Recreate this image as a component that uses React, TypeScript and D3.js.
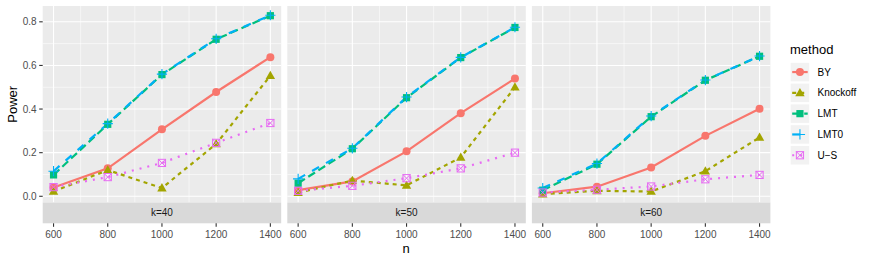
import * as d3 from "d3";

// n values on the x axis
const ns = [600, 800, 1000, 1200, 1400];
const facets = ["k=40", "k=50", "k=60"];
const methods = ["BY", "Knockoff", "LMT", "LMT0", "U\u2212S"];

// Power per facet (k=40, k=50, k=60)
const byPower = [
  [0.04, 0.128, 0.307, 0.478, 0.638],
  [0.028, 0.068, 0.206, 0.381, 0.54],
  [0.014, 0.044, 0.132, 0.277, 0.401],
];
const knockoffPower = [
  [0.022, 0.12, 0.038, 0.24, 0.553],
  [0.017, 0.072, 0.05, 0.178, 0.5],
  [0.01, 0.025, 0.022, 0.115, 0.27],
];
const lmtPower = [
  [0.098, 0.33, 0.558, 0.72, 0.828],
  [0.06, 0.218, 0.452, 0.636, 0.774],
  [0.028, 0.147, 0.365, 0.532, 0.642],
];
const lmt0Power = [
  [0.115, 0.333, 0.56, 0.722, 0.83],
  [0.08, 0.22, 0.455, 0.637, 0.775],
  [0.038, 0.15, 0.368, 0.533, 0.643],
];
const usPower = [
  [0.042, 0.088, 0.153, 0.245, 0.336],
  [0.025, 0.048, 0.083, 0.128, 0.2],
  [0.017, 0.03, 0.045, 0.078, 0.098],
];
const seriesPower = [byPower, knockoffPower, lmtPower, lmt0Power, usPower];

const yTicks = [0, 0.2, 0.4, 0.6, 0.8];
const yMinor = [0.1, 0.3, 0.5, 0.7];
const xMinor = [700, 900, 1100, 1300];

const colors = ["#F8766D", "#A3A500", "#00BF7D", "#00B0F6", "#E76BF3"];
const dashes = ["none", "4,4", "8,4", "8,8", "2,6"];

const FONT = "'Liberation Sans', Arial, Helvetica, sans-serif";

const panelLeft = 42.7;
const panelW = 238.5;
const panelGap = 6.1;
const panelTop = 6;
const panelBottom = 202.5;
const stripH = 20.8;

const y = d3.scaleLinear().domain([-0.0285, 0.8725]).range([panelBottom, panelTop]);

function Glyph({ m, cx, cy }: { m: number; cx: number; cy: number }) {
  const c = colors[m];
  if (m === 0) return <circle cx={cx} cy={cy} r={4} fill={c} />;
  if (m === 1) {
    const s = 4.7;
    const p = d3.path();
    p.moveTo(cx, cy - s * 1.05);
    p.lineTo(cx + s, cy + s * 0.72);
    p.lineTo(cx - s, cy + s * 0.72);
    p.closePath();
    return <path d={p.toString()} fill={c} />;
  }
  if (m === 2) return <rect x={cx - 3.6} y={cy - 3.6} width={7.2} height={7.2} fill={c} />;
  if (m === 3) {
    const s = 5.1;
    return (
      <path d={`M${cx - s},${cy}H${cx + s}M${cx},${cy - s}V${cy + s}`} stroke={c} strokeWidth={1.1} fill="none" />
    );
  }
  const s = 3.6;
  return (
    <g stroke={c} strokeWidth={1} fill="none">
      <rect x={cx - s} y={cy - s} width={2 * s} height={2 * s} />
      <path d={`M${cx - s},${cy - s}L${cx + s},${cy + s}M${cx + s},${cy - s}L${cx - s},${cy + s}`} />
    </g>
  );
}

function Panel({ f }: { f: number }) {
  const x0 = panelLeft + f * (panelW + panelGap);
  const x = d3.scaleLinear().domain([560, 1440]).range([x0, x0 + panelW]);
  const line = d3
    .line<number>()
    .x((_, i) => x(ns[i]))
    .y((d) => y(d));
  return (
    <g>
      <rect x={x0} y={panelTop} width={panelW} height={panelBottom - panelTop} fill="#EBEBEB" />
      {yMinor.map((t) => (
        <line key={"ym" + t} x1={x0} x2={x0 + panelW} y1={y(t)} y2={y(t)} stroke="#fff" strokeWidth={0.55} />
      ))}
      {xMinor.map((t) => (
        <line key={"xm" + t} x1={x(t)} x2={x(t)} y1={panelTop} y2={panelBottom} stroke="#fff" strokeWidth={0.55} />
      ))}
      {yTicks.map((t) => (
        <line key={"y" + t} x1={x0} x2={x0 + panelW} y1={y(t)} y2={y(t)} stroke="#fff" strokeWidth={1.1} />
      ))}
      {ns.map((t) => (
        <line key={"x" + t} x1={x(t)} x2={x(t)} y1={panelTop} y2={panelBottom} stroke="#fff" strokeWidth={1.1} />
      ))}
      {seriesPower.map((s, m) => (
        <path
          key={"l" + m}
          d={line(s[f]) ?? ""}
          fill="none"
          stroke={colors[m]}
          strokeWidth={2.2}
          strokeDasharray={dashes[m]}
        />
      ))}
      {seriesPower.map((s, m) =>
        s[f].map((v, i) => <Glyph key={"p" + m + "-" + i} m={m} cx={x(ns[i])} cy={y(v)} />)
      )}
      <rect x={x0} y={panelBottom} width={panelW} height={stripH} fill="#D9D9D9" />
      <text
        x={x0 + panelW / 2}
        y={panelBottom + stripH / 2}
        dy="0.35em"
        textAnchor="middle"
        fontSize={10}
        fill="#1A1A1A"
        fontFamily={FONT}
      >
        {facets[f]}
      </text>
      {ns.map((t) => (
        <g key={"xt" + t}>
          <line x1={x(t)} x2={x(t)} y1={panelBottom + stripH} y2={panelBottom + stripH + 3.5} stroke="#333" strokeWidth={1.1} />
          <text x={x(t)} y={panelBottom + stripH + 15} textAnchor="middle" fontSize={10} fill="#4D4D4D" fontFamily={FONT}>
            {t}
          </text>
        </g>
      ))}
    </g>
  );
}

export default function App() {
  const legendX = 790.7;
  const keySize = 18.5;
  const keyPitch = 20.8;
  const keyTop = 62.8;
  return (
    <svg width={872} height={262} style={{ position: "absolute", left: 0, top: 0, background: "#fff" }}>
      {facets.map((_, f) => (
        <Panel key={f} f={f} />
      ))}
      {yTicks.map((t) => (
        <g key={"yt" + t}>
          <line x1={panelLeft - 3.5} x2={panelLeft} y1={y(t)} y2={y(t)} stroke="#333" strokeWidth={1.1} />
          <text x={panelLeft - 6} y={y(t)} dy="0.35em" textAnchor="end" fontSize={10} fill="#4D4D4D" fontFamily={FONT}>
            {t.toFixed(1)}
          </text>
        </g>
      ))}
      <text
        transform={`translate(16.5,${(panelTop + panelBottom) / 2}) rotate(-90)`}
        textAnchor="middle"
        fontSize={13}
        fill="#000"
        fontFamily={FONT}
      >
        Power
      </text>
      <text x={406} y={253} textAnchor="middle" fontSize={13} fill="#000" fontFamily={FONT}>
        n
      </text>
      <text x={legendX - 0.7} y={54} fontSize={13} fill="#000" fontFamily={FONT}>
        method
      </text>
      {methods.map((name, m) => {
        const ky = keyTop + m * keyPitch;
        const cy = ky + keySize / 2;
        return (
          <g key={name}>
            <rect x={legendX} y={ky} width={keySize} height={keySize} fill="#F2F2F2" />
            <line
              x1={legendX + 1.5}
              x2={legendX + keySize - 1.5}
              y1={cy}
              y2={cy}
              stroke={colors[m]}
              strokeWidth={2.2}
              strokeDasharray={dashes[m]}
            />
            <Glyph m={m} cx={legendX + keySize / 2} cy={cy} />
            <text x={817.5} y={cy} dy="0.35em" fontSize={10} fill="#000" fontFamily={FONT}>
              {name}
            </text>
          </g>
        );
      })}
    </svg>
  );
}
